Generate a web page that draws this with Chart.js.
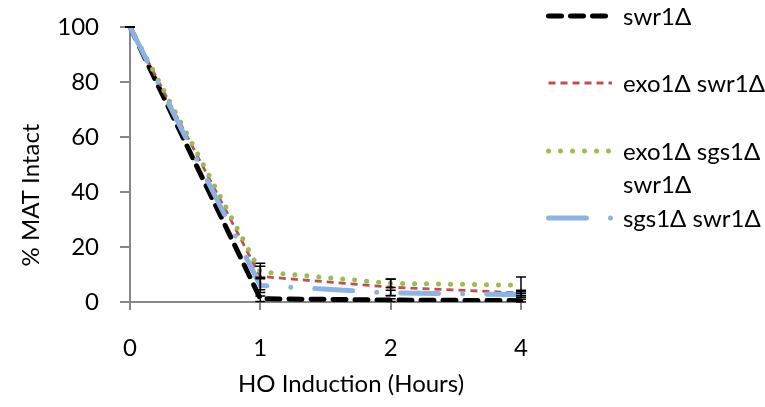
<!DOCTYPE html>
<html>
<head>
<meta charset="utf-8">
<script src="https://cdn.jsdelivr.net/npm/chart.js@4"></script>
<style>
  html, body { margin: 0; padding: 0; background: #fff; }
  #wrap { position: relative; width: 765px; height: 407px; }
</style>
</head>
<body>
<div id="wrap"><canvas id="matChart" width="765" height="407"></canvas></div>
<script>
// === MAT INTACT CHART ===

const hours = ['0', '1', '2', '4'];
const yTicks = [0, 20, 40, 60, 80, 100];

const seriesNames = ['swr1Δ', 'exo1Δ swr1Δ', ['exo1Δ sgs1Δ', 'swr1Δ'], 'sgs1Δ swr1Δ'];
const swr1 = [100, 1.2, 0.7, 0.5];
const exo1Swr1 = [100, 9.3, 5.4, 3.3];
const exo1Sgs1Swr1 = [100, 11, 6.8, 6.1];
const sgs1Swr1 = [100, 6, 3.3, 2.7];

const swr1Err = [0, 1, 0.5, 0.5];
const exo1Swr1Err = [0, 4.8, 3, 1];
const exo1Sgs1Swr1Err = [0, 2, 1.5, 3];
const sgs1Swr1Err = [0, 2.5, 1, 1];

const FONT = 'Lato, "Noto Sans", sans-serif';
const FSIZE = 24;
const AXIS = '#878787';

const errorBars = {
    id: 'errorBars',
    afterDatasetsDraw(chart) {
        const { ctx, scales: { y } } = chart;
        ctx.save();
        ctx.strokeStyle = '#000';
        ctx.lineWidth = 1.5;
        chart.data.datasets.forEach((ds, i) => {
            const meta = chart.getDatasetMeta(i);
            ds.errors.forEach((e, j) => {
                const x = meta.data[j].x;
                const top = y.getPixelForValue(Math.min(100, ds.data[j] + e));
                const bot = y.getPixelForValue(Math.max(0, ds.data[j] - e));
                ctx.beginPath();
                ctx.moveTo(x, top); ctx.lineTo(x, bot);
                ctx.moveTo(x - 5, top); ctx.lineTo(x + 5, top);
                ctx.moveTo(x - 5, bot); ctx.lineTo(x + 5, bot);
                ctx.stroke();
            });
        });
        ctx.restore();
    }
};

const sideLegend = {
    id: 'sideLegend',
    afterDraw(chart) {
        const { ctx } = chart;
        const rows = [16, 83, 151, 218];
        ctx.save();
        ctx.font = FSIZE + 'px ' + FONT;
        ctx.textBaseline = 'middle';
        ctx.fillStyle = '#000';
        chart.data.datasets.forEach((ds, i) => {
            const yy = rows[i];
            ctx.save();
            ctx.strokeStyle = ds.borderColor;
            ctx.lineWidth = ds.borderWidth;
            ctx.lineCap = ds.borderCapStyle;
            ctx.setLineDash(ds.borderDash);
            ctx.beginPath();
            ctx.moveTo(548.5, yy);
            ctx.lineTo(612, yy);
            ctx.stroke();
            ctx.restore();
            const lbl = [].concat(ds.label);
            lbl.forEach((t, k) => ctx.fillText(t, 623, yy + 1 + k * 33));
        });
        ctx.restore();
    }
};

const axisTitles = {
    id: 'axisTitles',
    afterDraw(chart) {
        const { ctx } = chart;
        ctx.save();
        ctx.font = FSIZE + 'px ' + FONT;
        ctx.fillStyle = '#000';
        ctx.textAlign = 'center';
        ctx.textBaseline = 'middle';
        ctx.fillText('HO Induction (Hours)', 351, 384);
        ctx.translate(31, 195);
        ctx.rotate(-Math.PI / 2);
        ctx.fillText('% MAT Intact', 0, 0);
        ctx.restore();
    }
};

const ctx = document.getElementById('matChart').getContext('2d');
new Chart(ctx, {
    type: 'line',
    data: {
        labels: hours,
        datasets: [
            { label: seriesNames[0], data: swr1, errors: swr1Err, borderColor: '#000', borderWidth: 5, borderDash: [13, 9], borderCapStyle: 'round', order: 4 },
            { label: seriesNames[1], data: exo1Swr1, errors: exo1Swr1Err, borderColor: '#c0504d', borderWidth: 2.8, borderDash: [7, 5], borderCapStyle: 'butt', order: 3 },
            { label: seriesNames[2], data: exo1Sgs1Swr1, errors: exo1Sgs1Swr1Err, borderColor: '#9bbb59', borderWidth: 5, borderDash: [0, 12], borderCapStyle: 'round', order: 2 },
            { label: seriesNames[3], data: sgs1Swr1, errors: sgs1Swr1Err, borderColor: '#8db3e2', borderWidth: 5, borderDash: [38, 24, 0, 24], borderCapStyle: 'round', order: 1 }
        ]
    },
    options: {
        responsive: false, animation: false,
        layout: { padding: { left: 0, top: 27, right: 244, bottom: 0 } },
        elements: { point: { radius: 0 }, line: { tension: 0, fill: false } },
        plugins: { legend: { display: false }, tooltip: { enabled: false } },
        scales: {
            x: {
                offset: false,
                border: { color: AXIS, width: 2 },
                grid: { drawOnChartArea: false, drawTicks: true, tickLength: 8, color: AXIS, lineWidth: 2 },
                ticks: { color: '#000', font: { size: FSIZE, family: FONT }, padding: 24, maxRotation: 0 },
                afterFit: s => { s.height = 105; s.paddingLeft = 0; s.paddingRight = 0; }
            },
            y: {
                min: 0, max: 100,
                border: { color: AXIS, width: 2 },
                grid: { drawOnChartArea: false, drawTicks: true, tickLength: 10, color: AXIS, lineWidth: 2 },
                ticks: { color: '#000', font: { size: FSIZE, family: FONT }, padding: 21, stepSize: 20,
                    callback: v => yTicks.includes(v) ? String(v) : '' },
                afterFit: s => { s.width = 130; s.paddingTop = 0; s.paddingBottom = 0; }
            }
        }
    },
    plugins: [errorBars, sideLegend, axisTitles]
});
</script>
</body>
</html>
